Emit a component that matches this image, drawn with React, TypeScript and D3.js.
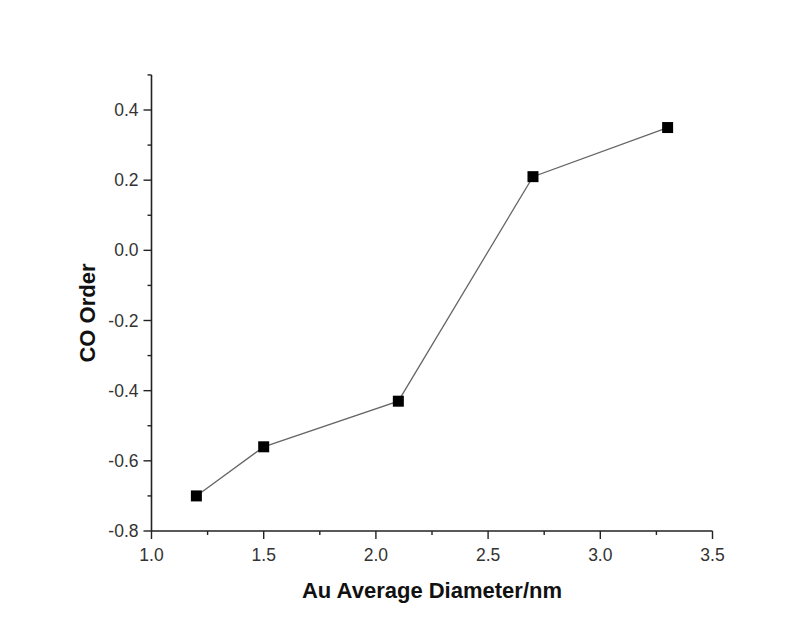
import React from "react";
import * as d3 from "d3";

const diameters = [1.2, 1.5, 2.1, 2.7, 3.3];
const coOrder = [-0.7, -0.56, -0.43, 0.21, 0.35];
const xTicks = [1.0, 1.5, 2.0, 2.5, 3.0, 3.5];
const yTicks = [-0.8, -0.6, -0.4, -0.2, 0.0, 0.2, 0.4];
const xMinor = [1.25, 1.75, 2.25, 2.75, 3.25];
const yMinor = [-0.7, -0.5, -0.3, -0.1, 0.1, 0.3, 0.5];

export default function App() {
  const W = 809, H = 629;
  const x = d3.scaleLinear().domain([1.0, 3.5]).range([151.5, 712.5]);
  const y = d3.scaleLinear().domain([-0.8, 0.4]).range([531, 110]);
  const pts = diameters.map((d, i) => [d, coOrder[i]] as [number, number]);
  const line = d3.line<[number, number]>().x(d => x(d[0])).y(d => y(d[1]));
  const axisColor = "#222";
  const font = "Arial, 'Liberation Sans', sans-serif";
  return (
    <svg width={W} height={H} style={{ position: "absolute", left: 0, top: 0, background: "#fff" }}>
      <rect width={W} height={H} fill="#fff" />
      {/* axes */}
      <line x1={x(1.0)} x2={x(1.0)} y1={y(0.5)} y2={y(-0.8)} stroke={axisColor} strokeWidth={1.6} />
      <line x1={x(1.0)} x2={x(3.5)} y1={y(-0.8)} y2={y(-0.8)} stroke={axisColor} strokeWidth={1.6} />
      {yTicks.map(t => (
        <g key={"y" + t}>
          <line x1={x(1.0) - 8} x2={x(1.0)} y1={y(t)} y2={y(t)} stroke={axisColor} strokeWidth={1.4} />
          <text x={x(1.0) - 13} y={y(t)} dy="0.35em" textAnchor="end" fontSize={17.5} fontFamily={font} fill="#333">
            {t.toFixed(1)}
          </text>
        </g>
      ))}
      {yMinor.map(t => (
        <line key={"ym" + t} x1={x(1.0) - 4} x2={x(1.0)} y1={y(t)} y2={y(t)} stroke={axisColor} strokeWidth={1.4} />
      ))}
      {xTicks.map(t => (
        <g key={"x" + t}>
          <line x1={x(t)} x2={x(t)} y1={y(-0.8)} y2={y(-0.8) + 8} stroke={axisColor} strokeWidth={1.4} />
          <text x={x(t)} y={555} dy="0.35em" textAnchor="middle" fontSize={17.5} fontFamily={font} fill="#333">
            {t.toFixed(1)}
          </text>
        </g>
      ))}
      {xMinor.map(t => (
        <line key={"xm" + t} x1={x(t)} x2={x(t)} y1={y(-0.8)} y2={y(-0.8) + 4} stroke={axisColor} strokeWidth={1.4} />
      ))}
      {/* data line */}
      <path d={line(pts) || ""} fill="none" stroke="#666" strokeWidth={1.3} />
      {pts.map((p, i) => (
        <rect key={i} x={x(p[0]) - 5.5} y={y(p[1]) - 5.5} width={11} height={11} fill="#000" />
      ))}
      {/* axis titles */}
      <text x={432} y={590} dy="0.35em" textAnchor="middle" fontSize={22} fontWeight="bold" fontFamily={font} fill="#111">
        Au Average Diameter/nm
      </text>
      <text transform={`translate(87,313) rotate(-90)`} dy="0.35em" textAnchor="middle" fontSize={22} fontWeight="bold" fontFamily={font} fill="#111">
        CO Order
      </text>
    </svg>
  );
}
